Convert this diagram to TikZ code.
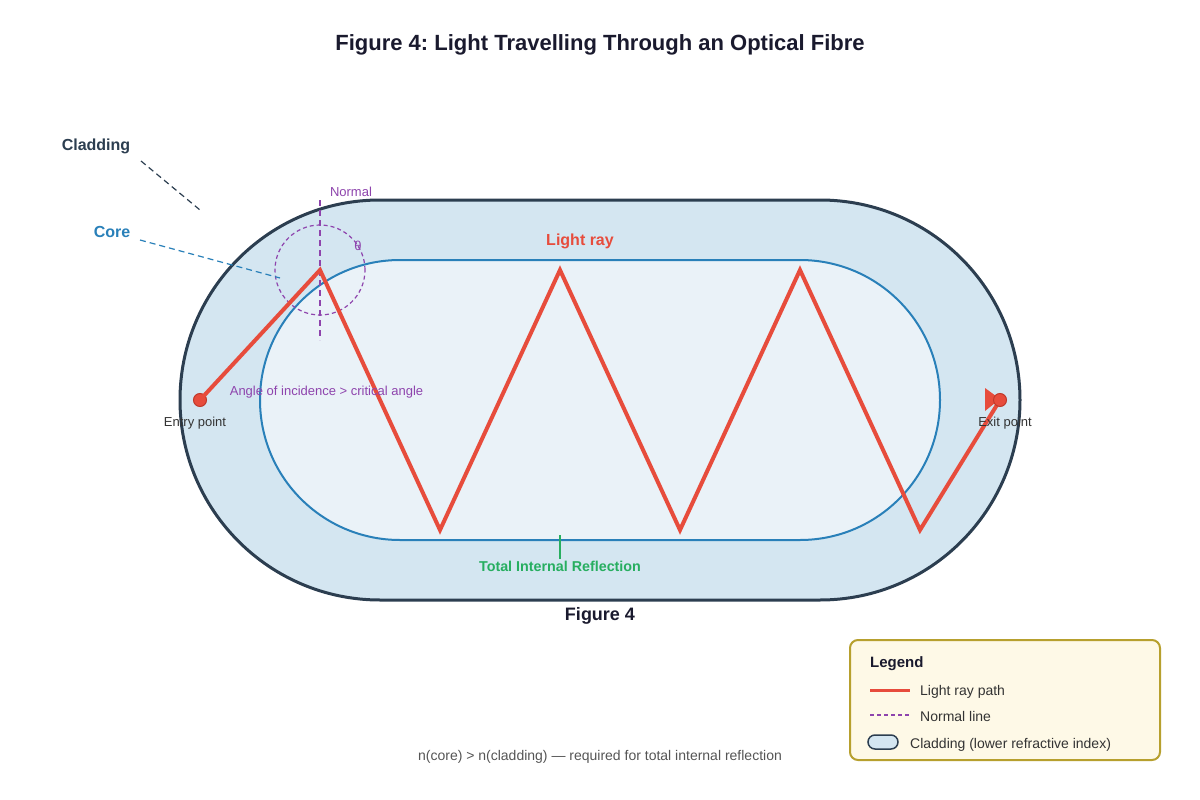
\documentclass[tikz,border=0pt]{standalone}
\usepackage{fontspec}
\setmainfont{Liberation Sans}
\frenchspacing
\definecolor{dark}{HTML}{2C3E50}
\definecolor{titlec}{HTML}{1A1A2E}
\definecolor{clad}{HTML}{D4E6F1}
\definecolor{corefill}{HTML}{EAF2F8}
\definecolor{coreline}{HTML}{2980B9}
\definecolor{ray}{HTML}{E74C3C}
\definecolor{raydark}{HTML}{C0392B}
\definecolor{purp}{HTML}{8E44AD}
\definecolor{grn}{HTML}{27AE60}
\definecolor{legfill}{HTML}{FEF9E7}
\definecolor{legline}{HTML}{B7A02E}
\definecolor{txt}{HTML}{333333}
\definecolor{foot}{HTML}{555555}
\tikzset{
  lbl/.style={inner sep=0pt, anchor=center, yshift=-1.8pt},
  raypath/.style={draw=ray, line width=4pt, line join=miter},
  normalline/.style={draw=purp, line width=1.5pt, dash pattern=on 6pt off 4pt},
  dot/.style={circle, fill=ray, draw=raydark, line width=1pt, minimum size=13pt, inner sep=0pt},
  pointer/.style={line width=1.2pt, dash pattern=on 6pt off 4pt},
}
\begin{document}
\begin{tikzpicture}[x=1pt,y=-1pt]
\useasboundingbox (0,0) rectangle (1200,800);
\fill[white] (0,0) rectangle (1200,800);
% title
\node[lbl, font=\bfseries\fontsize{22}{26}\selectfont, text=titlec] (title) at (600,43) {Figure 4: Light Travelling Through an Optical Fibre};
% fibre
\draw[fill=clad, draw=dark, line width=3pt, rounded corners=200pt] (180,200) rectangle (1020,600);
\draw[fill=corefill, draw=coreline, line width=2pt, rounded corners=140pt] (260,260) rectangle (940,540);
\coordinate (cladtip) at (200,210);
\coordinate (coretip) at (280,278);
% normal & angle circle
\coordinate (ntop) at (320,200);
\coordinate (nbot) at (320,340);
\draw[normalline] (ntop) -- (nbot);
\node[circle, draw=purp, line width=1.2pt, dash pattern=on 4pt off 3pt, minimum size=90pt, inner sep=0pt] (angcirc) at (320,270) {};
% ray
\node[dot] (entry) at (200,400) {};
\coordinate (r1) at (320,270);
\coordinate (r2) at (440,530);
\coordinate (r3) at (560,270);
\coordinate (r4) at (680,530);
\coordinate (r5) at (800,270);
\coordinate (r6) at (920,530);
\coordinate (exitc) at (1000,400);
\draw[raypath] (entry.center) -- (r1) -- (r2) -- (r3) -- (r4) -- (r5) -- (r6) -- (exitc);
\fill[ray] (985,388) -- (1000,399) -- (985,411) -- cycle;
\node[dot] (exit) at (1000,400) {};
% labels
\node[lbl, font=\bfseries\fontsize{16}{19}\selectfont, text=dark] (cladlbl) at (96,145) {Cladding};
\draw[pointer, draw=dark] (141,161) -- (cladtip);
\node[lbl, font=\bfseries\fontsize{16}{19}\selectfont, text=coreline] (corelbl) at (112,230) {Core};
\draw[pointer, draw=coreline] (140,240) -- (coretip);
\node[lbl, font=\fontsize{13}{16}\selectfont, text=purp] (normlbl) at (351,190) {Normal};
\node[lbl, font=\fontsize{13}{16}\selectfont, text=purp] (theta) at (358,244) {θ};
\node[lbl, font=\bfseries\fontsize{16}{19}\selectfont, text=ray] (raylbl) at (580,240) {Light ray};
\node[lbl, font=\fontsize{13}{16}\selectfont, text=purp] (anglbl) at (326.5,390) {Angle of incidence > critical angle};
\node[lbl, font=\fontsize{13}{16}\selectfont, text=txt] (entrylbl) at (195,421) {Entry point};
\node[lbl, font=\fontsize{13}{16}\selectfont, text=txt] (exitlbl) at (1005,421) {Exit point};
\coordinate (tirtop) at (560,535);
\node[lbl, font=\bfseries\fontsize{14.3}{17}\selectfont, text=grn] (tirlbl) at (560,565) {Total Internal Reflection};
\draw[grn, line width=1.5pt] (tirtop) -- (560,559);
\node[lbl, font=\bfseries\fontsize{18}{21}\selectfont, text=titlec] (figlbl) at (600,614) {Figure 4};
\node[lbl, font=\fontsize{14}{17}\selectfont, text=foot] (footer) at (600,755) {n(core) > n(cladding) — required for total internal reflection};
% legend
\draw[fill=legfill, draw=legline, line width=2pt, rounded corners=8pt] (850,640) rectangle (1160,760);
\node[lbl, anchor=west, font=\bfseries\fontsize{15}{18}\selectfont, text=titlec] (leghead) at (870,662) {Legend};
\coordinate (l1a) at (870,690); \coordinate (l1b) at (910,690);
\draw[ray, line width=3pt] (l1a) -- (l1b);
\node[lbl, anchor=west, font=\fontsize{14}{17}\selectfont, text=txt] (leg1) at (920,690) {Light ray path};
\coordinate (l2a) at (870,715); \coordinate (l2b) at (910,715);
\draw[purp, line width=1.3pt, dash pattern=on 4pt off 3pt] (l2a) -- (l2b);
\node[lbl, anchor=west, font=\fontsize{14}{17}\selectfont, text=txt] (leg2) at (920,715) {Normal line};
\draw[fill=clad, draw=dark, line width=1.5pt, rounded corners=7pt] (868,735) rectangle (898,749);
\node[lbl, anchor=west, font=\fontsize{14}{17}\selectfont, text=txt] (leg3) at (910,743) {Cladding (lower refractive index)};
\end{tikzpicture}
\end{document}
